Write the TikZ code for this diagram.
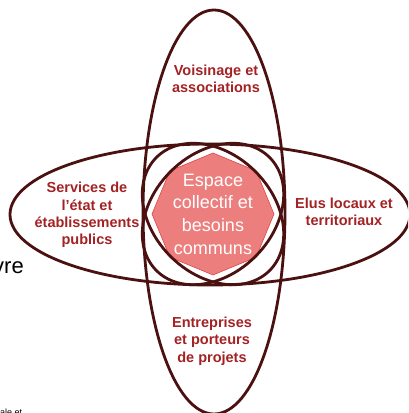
\documentclass[tikz,border=0pt]{standalone}
\usepackage{fontspec}
\setmainfont{Liberation Sans}
\usetikzlibrary{shapes.geometric}
\definecolor{ringbrown}{RGB}{75,16,16}
\definecolor{labelred}{RGB}{163,34,36}
\definecolor{corepink}{RGB}{236,126,126}
\definecolor{coreedge}{RGB}{222,70,70}

\begin{document}
\begin{tikzpicture}[x=1pt,y=1pt]
\def\cLine{ringbrown}
\def\cFill{corepink}
\def\cText{labelred}
\def\w{2.8}
\def\a{80}
\def\b{60}
\clip (0,0) rectangle (408,413);
\coordinate (O) at (213,199);
\node[regular polygon, regular polygon sides=8, shape border rotate=22.5, minimum size=122pt, inner sep=0pt, fill=\cFill, draw=coreedge, line width=0.6pt] (core) at (O) {};
\draw[\cLine, line width=\w] (214,201) ellipse[x radius=71, y radius=202];
\draw[\cLine, line width=\w] (210,198.5) ellipse[x radius=200, y radius=70.5];
\draw[\cLine, line width=\w, rotate around={45:(O)}] (O) ellipse[x radius=\a, y radius=\b];
\draw[\cLine, line width=\w, rotate around={-45:(O)}] (O) ellipse[x radius=\a, y radius=\b];
\node[white, align=center, font=\fontsize{18}{22.7}\selectfont] (espace) at (O) {Espace\\collectif et\\besoins\\communs};
\node[\cText, align=center, font=\bfseries\fontsize{14.5}{17.4}\selectfont] (voisins) at (216,334) {Voisinage et\\associations};
\node[\cText, align=center, font=\bfseries\fontsize{14.5}{17.4}\selectfont] (etat) at (87,198) {Services de\\l’état et\\établissements\\publics};
\node[\cText, align=center, font=\bfseries\fontsize{14.5}{17.4}\selectfont] (elus) at (344,201) {Elus locaux et\\territoriaux};
\node[\cText, align=center, font=\bfseries\fontsize{14.5}{17.4}\selectfont] (entreprises) at (212,72) {Entreprises\\et porteurs\\de projets};
\node[black, anchor=base east, inner sep=0pt, font=\fontsize{22}{26}\selectfont] (oeuvre) at (24,139) {vre};
\node[black, anchor=base west, inner sep=0pt, font=\fontsize{9}{11}\selectfont] (bas) at (0,-2) {ale et};
\end{tikzpicture}
\end{document}
